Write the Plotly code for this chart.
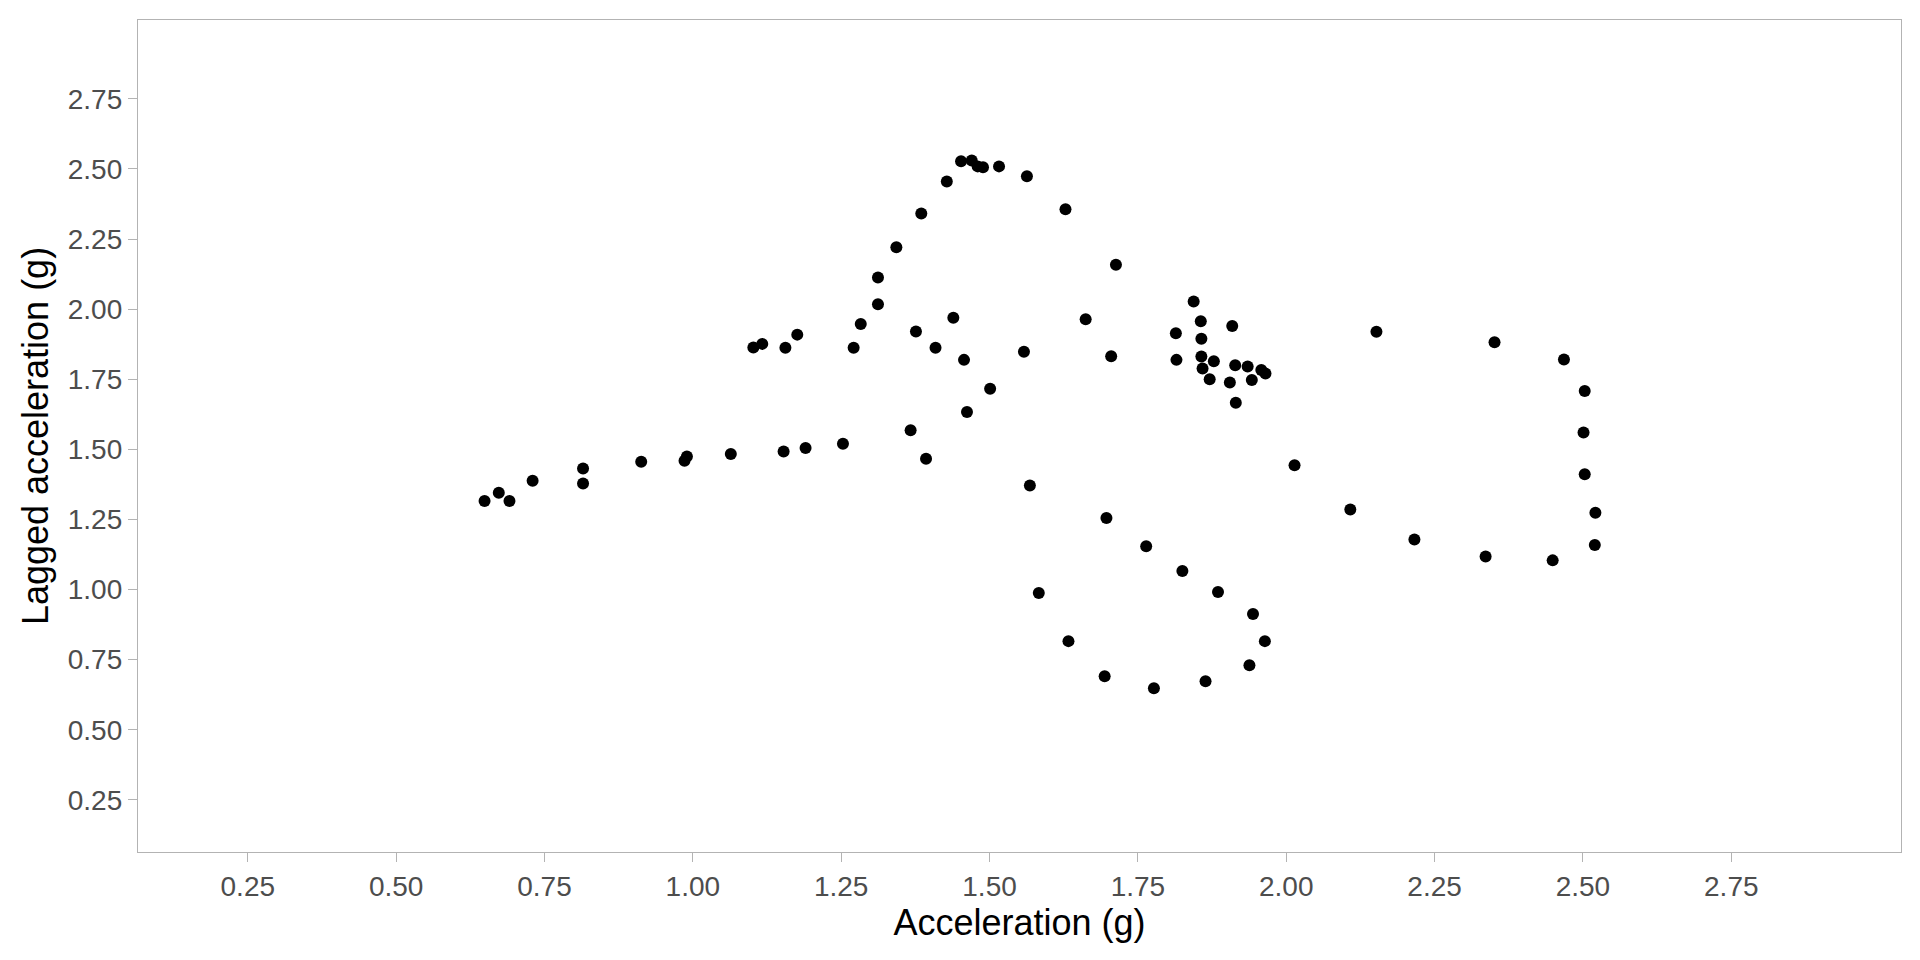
import plotly.graph_objects as go

# Acceleration (g) and lagged acceleration (g)
accel = [
    0.649, 0.673, 0.691, 0.730, 0.815, 0.815, 0.913, 0.990, 0.986, 1.064,
    1.153, 1.190, 1.253, 1.367, 1.393, 1.462, 1.501, 1.568,
    1.452, 1.470, 1.480, 1.489, 1.516, 1.563, 1.428, 1.385, 1.628, 1.343,
    1.713, 1.312, 1.312, 1.283, 1.271, 1.439, 1.376, 1.409, 1.457, 1.662,
    1.558, 1.705,
    1.102, 1.117, 1.156, 1.176,
    1.844, 1.856, 1.814, 1.909, 1.857, 1.815, 1.857, 1.878, 1.859, 1.871,
    1.914, 1.935, 1.905, 1.942, 1.958, 1.965, 1.915,
    2.152, 2.351, 2.468, 2.503, 2.501, 2.503, 2.521, 2.520, 2.449, 2.336,
    2.216, 2.108, 2.014,
    1.583, 1.633, 1.694, 1.777, 1.864, 1.938, 1.964, 1.944, 1.885, 1.825,
    1.764, 1.697,
]
lagged = [
    1.316, 1.345, 1.316, 1.388, 1.432, 1.378, 1.456, 1.474, 1.459, 1.483,
    1.492, 1.505, 1.520, 1.568, 1.466, 1.633, 1.716, 1.371,
    2.527, 2.530, 2.509, 2.506, 2.509, 2.474, 2.455, 2.341, 2.356, 2.221,
    2.158, 2.113, 2.017, 1.947, 1.862, 1.969, 1.920, 1.862, 1.819, 1.964,
    1.848, 1.832,
    1.863, 1.876, 1.862, 1.909,
    2.027, 1.957, 1.914, 1.940, 1.894, 1.819, 1.831, 1.814, 1.788, 1.750,
    1.800, 1.795, 1.738, 1.747, 1.783, 1.770, 1.666,
    1.919, 1.882, 1.820, 1.708, 1.560, 1.411, 1.274, 1.159, 1.104, 1.118,
    1.178, 1.285, 1.443,
    0.988, 0.816, 0.691, 0.648, 0.673, 0.730, 0.816, 0.913, 0.991, 1.066,
    1.154, 1.255,
]

tick_vals = [0.25, 0.50, 0.75, 1.00, 1.25, 1.50, 1.75, 2.00, 2.25, 2.50, 2.75]
tick_text = ["0.25", "0.50", "0.75", "1.00", "1.25", "1.50", "1.75", "2.00", "2.25", "2.50", "2.75"]
x_range = [0.065, 3.036]
y_range = [0.064, 3.031]

FONT = "Liberation Sans, Arial, Helvetica, sans-serif"

fig = go.Figure(
    go.Scatter(
        x=accel,
        y=lagged,
        mode="markers",
        marker=dict(color="black", size=12, line=dict(width=0)),
        showlegend=False,
    )
)

axis_common = dict(
    tickmode="array",
    tickvals=tick_vals,
    ticktext=tick_text,
    showgrid=False,
    zeroline=False,
    showline=True,
    mirror=True,
    linecolor="#B3B3B3",
    linewidth=1.3,
    ticks="outside",
    ticklen=9,
    tickwidth=1.3,
    tickcolor="#B3B3B3",
    tickfont=dict(family=FONT, size=28, color="#4D4D4D"),
)

fig.update_layout(
    width=1920,
    height=960,
    paper_bgcolor="white",
    plot_bgcolor="white",
    margin=dict(l=138, r=19, t=20, b=108, autoexpand=False),
    xaxis=dict(
        **axis_common,
        range=x_range,
        title=dict(text="Acceleration (g)", font=dict(family=FONT, size=36, color="black"), standoff=6),
    ),
    yaxis=dict(
        **axis_common,
        range=y_range,
        title=dict(text="Lagged acceleration (g)", font=dict(family=FONT, size=36, color="black"), standoff=8),
    ),
)

fig.write_html(
    "out.html",
    config={"displayModeBar": False},
    post_script="document.body.style.margin='0px';document.body.style.overflow='hidden';",
)
